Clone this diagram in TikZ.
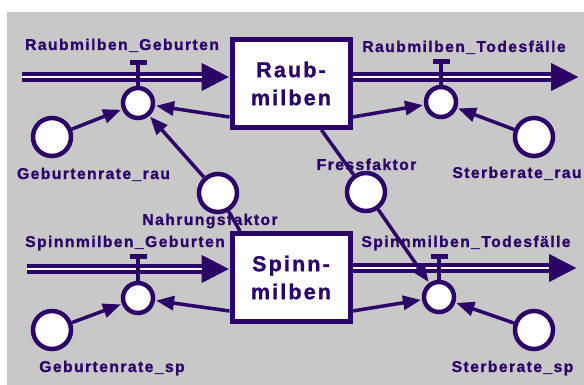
\documentclass[tikz,border=0pt]{standalone}
\usepackage{fontspec}
\setmainfont{Liberation Sans}
\newfontfamily\lblfam[LetterSpace=9, FakeBold=1.2]{Liberation Sans}
\newfontfamily\stockfam[LetterSpace=10, FakeBold=1.2]{Liberation Sans}
\usetikzlibrary{arrows.meta,calc}

\definecolor{ink}{RGB}{44,4,104}
\definecolor{bg}{RGB}{200,200,200}

\tikzset{
  stock/.style={draw=ink, fill=white, line width=5pt, minimum width=118pt,
    minimum height=88pt, inner sep=0pt, align=center, text=ink,
    font=\stockfam\bfseries\fontsize{21.5}{28}\selectfont},
  valve/.style={circle, draw=ink, fill=white, line width=4.5pt, minimum size=30pt, inner sep=0pt},
  aux/.style={circle, draw=ink, fill=white, line width=4.5pt, minimum size=38pt, inner sep=0pt},
  lbl/.style={anchor=base, inner sep=0pt, text=ink, font=\lblfam\bfseries\fontsize{15.7}{18}\selectfont},
  pipeout/.style={draw=ink, line width=10pt, -{Triangle[length=28pt,width=26pt]}},
  pipecore/.style={draw=white, line width=2pt, shorten >=28pt},
  stem/.style={draw=ink, line width=3.5pt},
  bar/.style={draw=ink, line width=5pt},
  conn/.style={draw=ink, line width=3.5pt},
  arr/.style={conn, -{Triangle[length=18pt,width=14pt]}, shorten >=1pt},
}

\begin{document}
\begin{tikzpicture}[x=1pt, y=-1pt]
  % canvas
  \fill[white] (0,0) rectangle (584,385);
  \fill[bg] (7,12) rectangle (584,385);
  \useasboundingbox (0,0) rectangle (584,385);

  % labels
  \node[lbl] (lRG) at (122,50)  {Raubmilben\_Geburten};
  \node[lbl] (lRT) at (464,52)  {Raubmilben\_Todesfälle};
  \node[lbl] (lGR) at (93.5,179) {Geburtenrate\_rau};
  \node[lbl] (lSR) at (517,178) {Sterberate\_rau};
  \node[lbl] (lFF) at (366.5,170) {Fressfaktor};
  \node[lbl] (lNF) at (210,225) {Nahrungsfaktor};
  \node[lbl] (lSG) at (125,247) {Spinnmilben\_Geburten};
  \node[lbl] (lST) at (466,247) {Spinnmilben\_Todesfälle};
  \node[lbl] (lGS) at (112,372) {Geburtenrate\_sp};
  \node[lbl] (lSS) at (512.5,372) {Sterberate\_sp};

  % stocks
  \node[stock] (raub)  at (291,83.5)  {Raub-\\milben};
  \node[stock] (spinn) at (291,277.5) {Spinn-\\milben};

  % auxiliaries
  \node[aux] (gRau)  at (52,137)  {};
  \node[aux] (sRau)  at (534,137) {};
  \node[aux] (fress) at (366,192) {};
  \node[aux] (nahr)  at (218,193) {};
  \node[aux] (gSp)   at (52,330)  {};
  \node[aux] (sSp)   at (534,330) {};

  % flow pipe ends and valve handles
  \coordinate (pRG) at (22,77);
  \coordinate (pRT) at (579,77);
  \coordinate (pSG) at (27,269);
  \coordinate (pST) at (577,268);
  \coordinate (tRG) at (138,62.5);
  \coordinate (tRT) at (441,61.5);
  \coordinate (tSG) at (138,256);
  \coordinate (tST) at (439,256);

  % flow pipes
  \draw[pipeout]  (pRG) -- (raub.west |- pRG);
  \draw[pipecore] (pRG) -- (raub.west |- pRG);
  \draw[pipeout]  (raub.east |- pRT) -- (pRT);
  \draw[pipecore] (raub.east |- pRT) -- (pRT);
  \draw[pipeout]  (pSG) -- (spinn.west |- pSG);
  \draw[pipecore] (pSG) -- (spinn.west |- pSG);
  \draw[pipeout]  (spinn.east |- pST) -- (pST);
  \draw[pipecore] (spinn.east |- pST) -- (pST);

  % valves
  \node[valve] (vRG) at (138,103) {};
  \node[valve] (vRT) at (441,102) {};
  \node[valve] (vSG) at (138,298) {};
  \node[valve] (vST) at (439,297) {};
  \foreach \v/\t in {vRG/tRG, vRT/tRT, vSG/tSG, vST/tST}{
    \draw[stem] (\v.north) -- (\t);
    \draw[bar] ([xshift=-8.5pt]\t) -- ([xshift=8.5pt]\t);
  }

  % information links
  \draw[arr]  (gRau) -- (vRG);
  \draw[arr]  ($(raub.south west)+(0,-13)$) -- (vRG);
  \draw[conn] ($(spinn.north west)+(10.5,0)$) -- (nahr);
  \draw[arr]  (nahr) -- (vRG);
  \draw[arr]  ($(raub.south east)+(0,-13)$) -- (vRT);
  \draw[arr]  (sRau) -- (vRT);
  \draw[arr]  ($(spinn.south west)+(0,-13)$) -- (vSG);
  \draw[arr]  (gSp) -- (vSG);
  \draw[arr]  ($(spinn.south east)+(0,-13)$) -- (vST);
  \draw[arr]  (sSp) -- (vST);
  \draw[conn] ($(raub.south west)+(92,0)$) -- (fress);
  \draw[arr]  (fress) -- (vST);
\end{tikzpicture}
\end{document}
